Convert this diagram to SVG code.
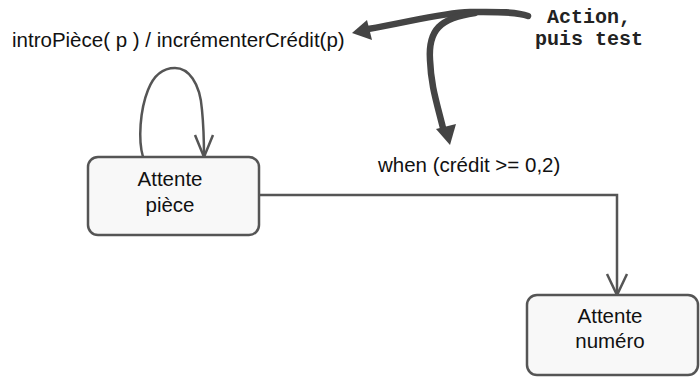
<svg xmlns="http://www.w3.org/2000/svg" width="700" height="377" viewBox="0 0 700 377">
<style>
.node{fill:#f8f8f8;stroke:#555;stroke-width:2.5}
.lbl{font-family:"Liberation Sans",Arial,sans-serif;font-size:20.5px;fill:#111}
.ctr{text-anchor:middle}
.conn{fill:none;stroke:#555;stroke-width:2.5}
.note{fill:none;stroke:#444;stroke-width:6.5;stroke-linecap:round}
.mono{font-family:"Liberation Mono","Courier New",monospace;font-size:20px;font-weight:bold;fill:#222}
</style>
<rect width="700" height="377" fill="#fff"/>
<g id="connectors">
<path class="conn" d="M143,157 C138,140 140,110 148,90 C155,72 165,68 175,68 C188,68 200,82 202,110 C204,130 204,145 204,157"/>
<path class="conn" d="M195,135 L204,157 L213,135"/>
<path class="conn" d="M259,195 L617,195 L617,295"/>
<path class="conn" d="M607,274 L617,295 L627,274"/>
</g>
<g id="label-intro"><text class="lbl" x="12" y="47">introPièce( p ) / incrémenterCrédit(p)</text></g>
<g id="label-when"><text class="lbl" x="378" y="172">when (crédit &gt;= 0,2)</text></g>
<g id="node-attente-piece">
<rect class="node" x="88" y="157" width="171" height="78" rx="10"/>
<text class="lbl ctr" x="170" y="186">Attente</text>
<text class="lbl ctr" x="170" y="212">pièce</text>
</g>
<g id="node-attente-numero">
<rect class="node" x="527" y="295" width="171" height="80" rx="10"/>
<text class="lbl ctr" x="610" y="323">Attente</text>
<text class="lbl ctr" x="610" y="348">numéro</text>
</g>
<g id="note">
<text class="mono ctr" x="589" y="23">Action,</text>
<text class="mono ctr" x="589" y="45">puis test</text>
<path class="note" d="M528,16 C515,11 490,12 470,12 C440,13 410,22 368,29"/>
<polygon fill="#444" points="352,33 367,20 372,40"/>
<path class="note" d="M475,13 C440,18 428,30 430,60 C431,85 436,100 443,128"/>
<polygon fill="#444" points="450,145 436,129 456,124"/>
</g>
</svg>
